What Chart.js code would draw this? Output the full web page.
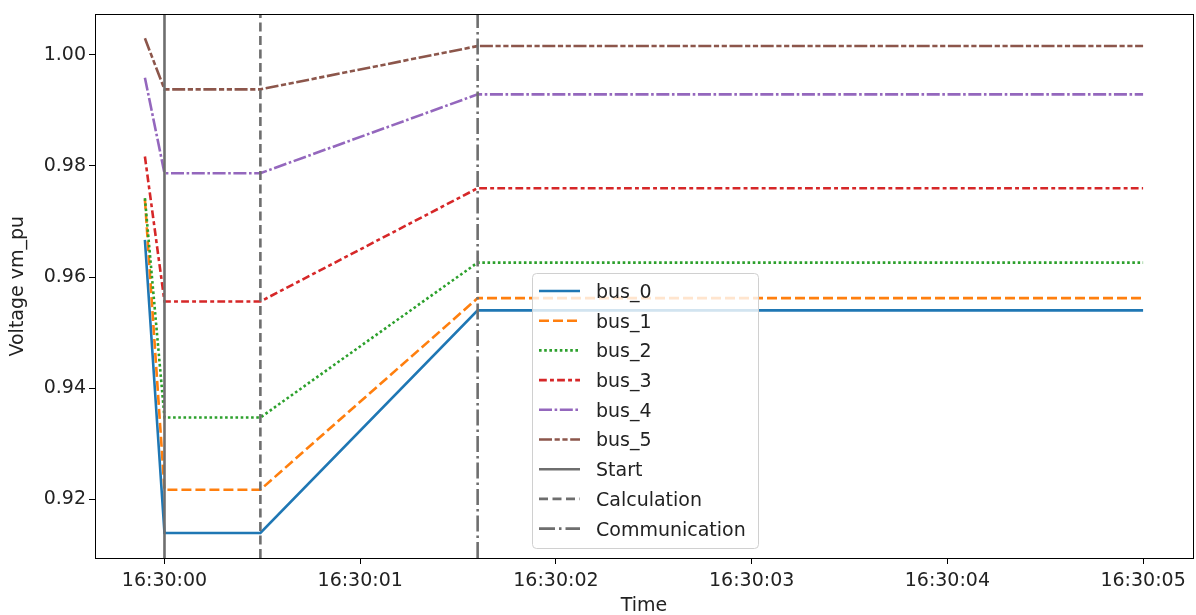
<!DOCTYPE html>
<html>
<head>
<meta charset="utf-8">
<script src="https://cdn.jsdelivr.net/npm/chart.js@4.4.0/dist/chart.umd.min.js"></script>
<style>
  body { margin: 0; background: #fff; }
  #voltageChart { display: block; }
</style>
</head>
<body>
<canvas id="voltageChart" width="1196" height="615"></canvas>
<script>
// seconds after 16:30:00
var timeSec = [-0.1, 0, 0.49, 1.6, 5];

var busNames = ['bus_0', 'bus_1', 'bus_2', 'bus_3', 'bus_4', 'bus_5'];
var bus0 = [0.9667, 0.9139, 0.9139, 0.9540, 0.9540];
var bus1 = [0.9740, 0.9217, 0.9217, 0.9562, 0.9562];
var bus2 = [0.9742, 0.9347, 0.9347, 0.9626, 0.9626];
var bus3 = [0.9817, 0.9556, 0.9556, 0.9760, 0.9760];
var bus4 = [0.9959, 0.9787, 0.9787, 0.9929, 0.9929];
var bus5 = [1.0030, 0.9938, 0.9938, 1.0016, 1.0016];
var busValues = [bus0, bus1, bus2, bus3, bus4, bus5];

var eventNames = ['Start', 'Calculation', 'Communication'];
var eventTimes = [0, 0.49, 1.6];

var xTicks = [0, 1, 2, 3, 4, 5];
var xTickLabels = ['16:30:00', '16:30:01', '16:30:02', '16:30:03', '16:30:04', '16:30:05'];
var yTicks = [0.92, 0.94, 0.96, 0.98, 1.00];

var X_MIN = -0.355, X_MAX = 5.255;
var Y_MIN = 0.9094, Y_MAX = 1.0073;

var busColors = ['#1f77b4', '#ff7f0e', '#2ca02c', '#d62728', '#9467bd', '#8c564b'];
var busDashes = [[], [10, 4], [2.6, 2.6], [7.8, 3.2, 3.9, 3.2], [13, 2.6, 2.6, 2.6], [13, 2.6, 5.2, 2.6, 5.2, 2.6]];
var eventDashes = [[], [9, 4.5], [16, 4, 2.5, 4]];
var eventColor = '#6e6e6e';

var FONT = { family: 'DejaVu Sans', size: 19 };

var datasets = [];
for (var i = 0; i < busNames.length; i++) {
    datasets.push({
        label: busNames[i],
        data: timeSec.map(function (t, k) { return { x: t, y: busValues[i][k] }; }),
        borderColor: busColors[i],
        borderWidth: 2.6,
        borderDash: busDashes[i],
        pointRadius: 0,
        fill: false,
        tension: 0,
        order: 6 - i
    });
}
for (var j = 0; j < eventNames.length; j++) {
    datasets.push({
        label: eventNames[j],
        data: [{ x: eventTimes[j], y: Y_MIN }, { x: eventTimes[j], y: Y_MAX }],
        borderColor: eventColor,
        borderWidth: 2.6,
        borderDash: eventDashes[j],
        pointRadius: 0,
        fill: false,
        order: 0
    });
}

// full frame round the plot
var framePlugin = {
    id: 'frame',
    afterDraw: function (chart) {
        var a = chart.chartArea, ctx = chart.ctx;
        ctx.save();
        ctx.strokeStyle = '#000';
        ctx.lineWidth = 1;
        ctx.strokeRect(Math.round(a.left) + 0.5, Math.round(a.top) + 0.5,
            Math.round(a.right - a.left), Math.round(a.bottom - a.top));
        ctx.restore();
    }
};

// matplotlib-like legend box inside the plot
var boxLegend = {
    id: 'boxLegend',
    afterDatasetsDraw: function (chart) {
        var ctx = chart.ctx;
        var bx = 532.5, by = 273.5, bw = 226, bh = 275, r = 4;
        ctx.save();
        ctx.beginPath();
        ctx.moveTo(bx + r, by);
        ctx.arcTo(bx + bw, by, bx + bw, by + bh, r);
        ctx.arcTo(bx + bw, by + bh, bx, by + bh, r);
        ctx.arcTo(bx, by + bh, bx, by, r);
        ctx.arcTo(bx, by, bx + bw, by, r);
        ctx.closePath();
        ctx.fillStyle = 'rgba(255,255,255,0.8)';
        ctx.fill();
        ctx.strokeStyle = '#d0d0d0';
        ctx.lineWidth = 1;
        ctx.stroke();

        ctx.font = FONT.size + 'px ' + FONT.family;
        ctx.textBaseline = 'middle';
        ctx.fillStyle = '#222';
        chart.data.datasets.forEach(function (ds, k) {
            var yy = 291 + k * 29.7;
            ctx.beginPath();
            ctx.setLineDash(ds.borderDash);
            ctx.strokeStyle = ds.borderColor;
            ctx.lineWidth = ds.borderWidth;
            ctx.moveTo(539, yy);
            ctx.lineTo(580, yy);
            ctx.stroke();
            ctx.setLineDash([]);
            ctx.fillText(ds.label, 596, yy + 2);
        });
        ctx.restore();
    }
};

new Chart(document.getElementById('voltageChart'), {
    type: 'line',
    data: { datasets: datasets },
    plugins: [framePlugin, boxLegend],
    options: {
        responsive: false,
        animation: false,
        devicePixelRatio: 1,
        layout: { padding: { top: 12, right: 3, left: 0, bottom: 0 } },
        plugins: {
            legend: { display: false },
            tooltip: { enabled: false }
        },
        scales: {
            x: {
                type: 'linear',
                min: X_MIN,
                max: X_MAX,
                afterBuildTicks: function (scale) {
                    scale.ticks = xTicks.map(function (v) { return { value: v }; });
                },
                afterFit: function (scale) { scale.height = 57; },
                ticks: {
                    font: FONT,
                    color: '#222',
                    padding: 6,
                    maxRotation: 0,
                    autoSkip: false,
                    callback: function (value) {
                        var idx = xTicks.indexOf(value);
                        return idx >= 0 ? xTickLabels[idx] : '';
                    }
                },
                grid: { drawOnChartArea: false, drawTicks: true, tickLength: 6, color: '#000' },
                border: { display: true, color: '#000' },
                title: { display: true, text: 'Time', font: FONT, color: '#222', padding: { top: 0, bottom: -2 } }
            },
            y: {
                type: 'linear',
                min: Y_MIN,
                max: Y_MAX,
                afterBuildTicks: function (scale) {
                    scale.ticks = yTicks.map(function (v) { return { value: v }; });
                },
                afterFit: function (scale) { scale.width = 95; },
                ticks: {
                    font: FONT,
                    color: '#222',
                    padding: 3,
                    callback: function (value) { return value.toFixed(2); }
                },
                grid: { drawOnChartArea: false, drawTicks: true, tickLength: 6, color: '#000' },
                border: { display: true, color: '#000' },
                title: { display: true, text: 'Voltage vm_pu', font: FONT, color: '#222', padding: { top: 7, bottom: 0 } }
            }
        }
    }
});
</script>
</body>
</html>
